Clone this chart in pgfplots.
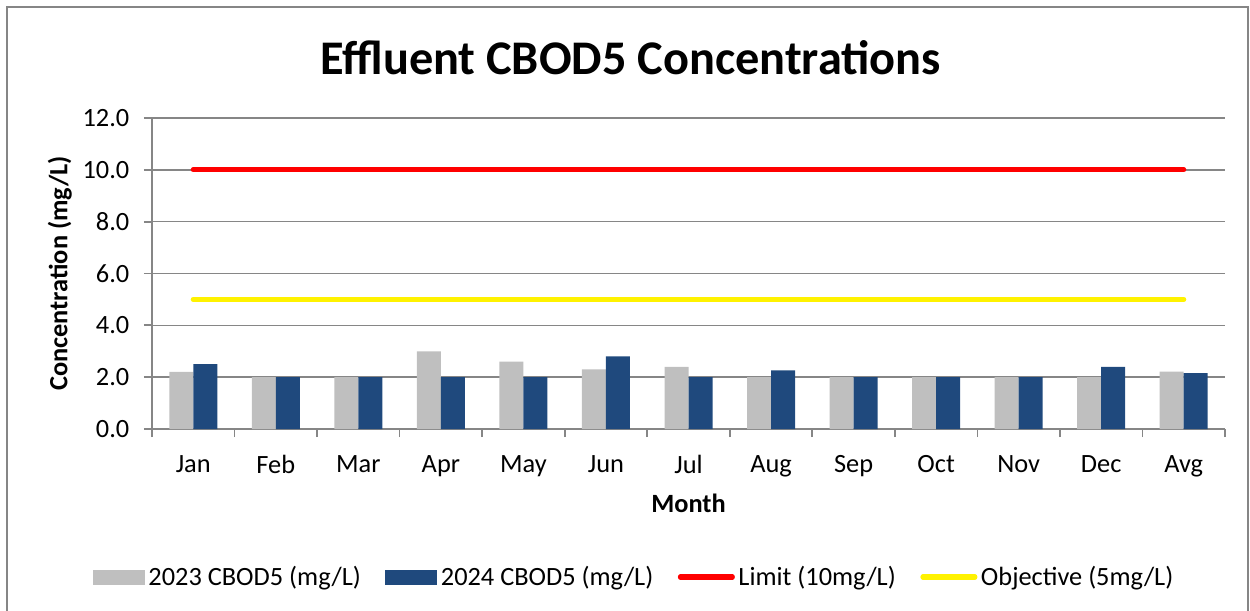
\documentclass[border=0pt]{standalone}
\usepackage{fontspec}
\setmainfont{Carlito}
\usepackage{pgfplots}
\pgfplotsset{compat=1.18}
\definecolor{bar23}{HTML}{BFBFBF}
\definecolor{bar24}{HTML}{1F497D}
\definecolor{gridc}{HTML}{868686}

\begin{document}
\begin{tikzpicture}
\useasboundingbox (-3.04,-3.62) rectangle (21.96,8.58);
\draw[gridc,line width=0.7pt] (-2.9,-3.8) rectangle (21.92,8.44);
\begin{axis}[at={(0,0)},anchor=south west,scale only axis,width=21.46cm,height=6.22cm,
  xmin=-0.5,xmax=12.5,ymin=0,ymax=12,
  xtick={-0.5,0.5,...,12.5},x tick label as interval,
  xticklabels={Jan,Feb,Mar,Apr,May,Jun,Jul,Aug,Sep,Oct,Nov,Dec,Avg},
  ytick={0,2,...,12},
  yticklabel style={xshift=-0.17cm,/pgf/number format/.cd,fixed,fixed zerofill,precision=1,assume math mode=true},
  xticklabel style={yshift=-0.24cm},
  ymajorgrids,grid style={gridc,line width=0.8pt},
  axis x line*=bottom,axis y line*=left,axis line style={gridc,line width=1pt},
  tick align=outside,major tick length=0.16cm,tick style={gridc,line width=1pt},
  tick label style={font=\fontsize{15}{18}\selectfont,text=black},
  label style={font=\fontsize{15}{18}\selectfont\bfseries},
  title={Effluent CBOD5 Concentrations},
  title style={font=\fontsize{27.5}{33}\selectfont\bfseries,at={(axis description cs:0.446,1.16)},anchor=center},
  xlabel={Month},xlabel style={at={(axis description cs:0.5,-0.238)},anchor=center},
  ylabel={Concentration (mg/L)},ylabel style={at={(axis description cs:-0.086,0.5)},anchor=center},
  legend columns=4,legend cell align=left,
  legend style={draw=none,at={(axis description cs:0.45,-0.476)},anchor=center,
    font=\fontsize{15}{18}\selectfont,/tikz/every even column/.append style={column sep=0.42cm}},
  ]
\addplot[ybar,bar width=0.48cm,bar shift=-0.24cm,fill=bar23,draw=none,
  legend image code/.code={\fill[bar23] (0cm,-0.15cm) rectangle (1.04cm,0.15cm);}]
  coordinates {(0,2.2) (1,2.0) (2,2.0) (3,3.0) (4,2.6) (5,2.3) (6,2.4) (7,2.0) (8,2.0) (9,2.0) (10,2.0) (11,2.0) (12,2.21)};
\addplot[ybar,bar width=0.48cm,bar shift=0.24cm,fill=bar24,draw=none,
  legend image code/.code={\fill[bar24] (0cm,-0.15cm) rectangle (1.04cm,0.15cm);}]
  coordinates {(0,2.5) (1,2.0) (2,2.0) (3,2.0) (4,2.0) (5,2.8) (6,2.0) (7,2.26) (8,2.0) (9,2.0) (10,2.0) (11,2.4) (12,2.16)};
\addplot[red,line width=2.9pt,line cap=round,mark=none,
  legend image code/.code={\draw[red,line width=2.9pt,line cap=round] (0cm,0cm) -- (1.04cm,0cm);}]
  coordinates {(0,10) (1,10) (2,10) (3,10) (4,10) (5,10) (6,10) (7,10) (8,10) (9,10) (10,10) (11,10) (12,10)};
\addplot[yellow,line width=2.9pt,line cap=round,mark=none,
  legend image code/.code={\draw[yellow,line width=2.9pt,line cap=round] (0cm,0cm) -- (1.04cm,0cm);}]
  coordinates {(0,5) (1,5) (2,5) (3,5) (4,5) (5,5) (6,5) (7,5) (8,5) (9,5) (10,5) (11,5) (12,5)};
\legend{2023 CBOD5 (mg/L),2024 CBOD5 (mg/L),Limit (10mg/L),Objective (5mg/L)}
\end{axis}
\end{tikzpicture}
\end{document}
